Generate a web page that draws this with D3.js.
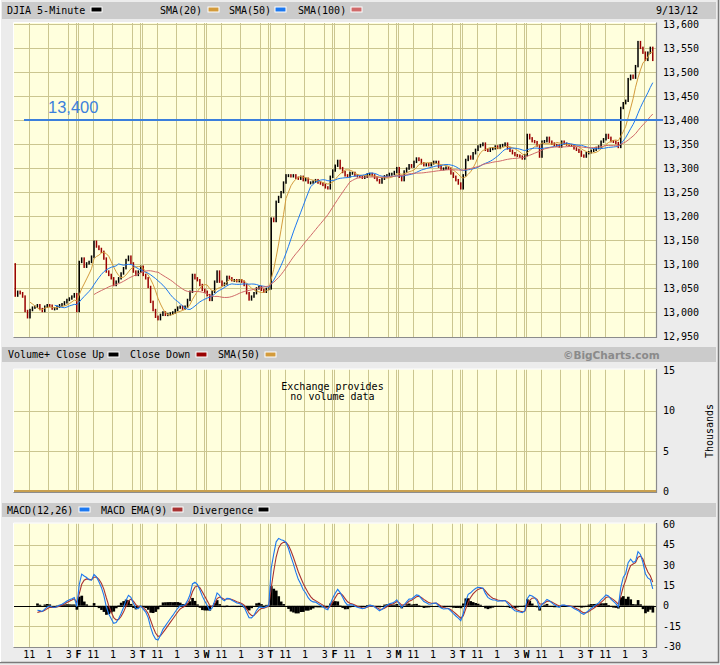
<!DOCTYPE html>
<html><head><meta charset="utf-8">
<script src="https://cdn.jsdelivr.net/npm/d3@7"></script>
<style>
html,body{margin:0;padding:0;background:#ececec;}
svg{display:block;}
text{font-family:"DejaVu Sans Mono",monospace;font-size:10px;fill:#000;}
</style></head><body>
<svg id="chart" width="720" height="665"></svg>
<script>
// ---------------- DATA (15-minute closes) ----------------
const dayLetters = ["T","F","T","W","T","F","M","T","W","T"];
const hourLabels = ["11","1","3"];
const firstOpen = 13100;
const closeAug30 = [13035,13043,13040,13033,13003,12990,13005,13010,13012,13015,13007,13003,13012,13015,13014,13008,13008,13012,13015,13017,13021,13026,13029,13033,13038,13003];
const closeAug31 = [13105,13112,13095,13102,13105,13116,13147,13137,13132,13126,13112,13085,13078,13071,13057,13064,13071,13081,13092,13109,13116,13102,13085,13078,13085,13095];
const closeSep04 = [13078,13071,13053,13022,13005,12991,12986,12995,13000,12995,12996,12998,13000,13005,13010,13012,13008,13012,13026,13043,13078,13071,13067,13057,13047,13043];
const closeSep05 = [13036,13026,13043,13064,13085,13064,13057,13060,13074,13071,13067,13067,13065,13067,13064,13057,13040,13027,13033,13040,13050,13053,13047,13043,13049,13050];
const closeSep06 = [13195,13190,13230,13240,13250,13270,13285,13285,13283,13285,13280,13278,13282,13275,13278,13270,13270,13272,13275,13270,13268,13265,13260,13258,13282,13295];
const closeSep07 = [13305,13315,13300,13292,13285,13283,13290,13290,13285,13283,13282,13280,13282,13287,13288,13285,13280,13275,13270,13278,13283,13285,13288,13288,13292,13300];
const closeSep10 = [13282,13275,13293,13299,13306,13303,13313,13320,13317,13310,13306,13308,13306,13310,13313,13313,13303,13299,13299,13301,13299,13289,13282,13275,13268,13258];
const closeSep11 = [13285,13317,13324,13320,13331,13338,13345,13348,13351,13338,13336,13340,13341,13345,13342,13347,13348,13351,13341,13336,13331,13327,13326,13324,13320,13327];
const closeSep12 = [13369,13362,13356,13354,13347,13324,13355,13356,13363,13355,13351,13348,13347,13345,13355,13351,13349,13348,13347,13341,13338,13334,13326,13324,13331,13333];
const closeSep13 = [13336,13338,13342,13345,13355,13360,13369,13363,13356,13355,13352,13344,13425,13435,13440,13485,13492,13488,13512,13562,13550,13540,13525,13540,13550,13525];
const priceTicks = d3.range(12950, 13601, 50);
const volumeTicks = [0,5,10,15];
const macdTicks = [-30,-15,0,15,30,45,60];
const refLevel = 13400;

const closes = [].concat(closeAug30,closeAug31,closeSep04,closeSep05,closeSep06,closeSep07,closeSep10,closeSep11,closeSep12,closeSep13);
const SLOTS_PER_DAY = 26, NDAYS = 10, N = closes.length;

// ---------------- helpers ----------------
const svg = d3.select("#chart");
const defs = svg.append("defs");

const X0 = 14, X1 = 656;
const xS = d3.scaleLinear().domain([0, N]).range([14, 654]);
const slotW = xS(1) - xS(0);
const GRID = "#cbc690";
const PLOT_BG = "#ffffdd";
const px = v => Math.round(v) + 0.5;

const panels = {
  main: {y0: 23, y1: 337},
  vol:  {y0: 369.5, y1: 492},
  macd: {y0: 523.5, y1: 647}
};
const yMain = d3.scaleLinear().domain([12950, 13600]).range([336.5, 23.8]);
const yVol = d3.scaleLinear().domain([0, 15]).range([491.5, 370.3]);
const yMacd = d3.scaleLinear().domain([-30, 60]).range([646.5, 524.3]);

// header bands
function band(y, h){ svg.append("rect").attr("x",2).attr("y",y).attr("width",714).attr("height",h).attr("fill","#cbcbcb"); }
band(2, 17); band(347, 15); band(503, 14);

function plotBg(p, id){
  svg.append("rect").attr("x",X0).attr("y",p.y0).attr("width",X1-X0).attr("height",p.y1-p.y0).attr("fill",PLOT_BG);
  defs.append("clipPath").attr("id",id).append("rect").attr("x",X0).attr("y",p.y0).attr("width",X1-X0).attr("height",p.y1-p.y0);
}
function vGrid(p){
  const g = svg.append("g").attr("stroke",GRID).attr("stroke-width",1);
  for (let d=0; d<NDAYS; d++){
    [6,14,22].forEach(s=>{
      const x = px(xS(d*SLOTS_PER_DAY+s));
      g.append("line").attr("x1",x).attr("x2",x).attr("y1",p.y0).attr("y2",p.y1);
    });
    if (d>0){
      const x = Math.round(xS(d*SLOTS_PER_DAY));
      [x-1.5, x+0.5].forEach(xx=> g.append("line").attr("x1",xx).attr("x2",xx).attr("y1",p.y0).attr("y2",p.y1));
    }
  }
}
function hGrid(p, scale, vals){
  const g = svg.append("g").attr("stroke",GRID).attr("stroke-width",1);
  vals.forEach(v=>{ const y=px(scale(v)); g.append("line").attr("x1",X0).attr("x2",X1).attr("y1",y).attr("y2",y); });
}
function border(p){
  svg.append("line").attr("x1",X0-0.5).attr("x2",X1).attr("y1",p.y1+0.5).attr("y2",p.y1+0.5).attr("stroke","#8c8c8c").attr("stroke-width",1.2);
  svg.append("line").attr("x1",X1+0.5).attr("x2",X1+0.5).attr("y1",p.y0-0.5).attr("y2",p.y1+1).attr("stroke","#8c8c8c").attr("stroke-width",1.2);
  svg.append("line").attr("x1",X0-0.5).attr("x2",X1).attr("y1",p.y0-0.5).attr("y2",p.y0-0.5).attr("stroke","#ffffff");
  svg.append("line").attr("x1",X0-0.5).attr("x2",X0-0.5).attr("y1",p.y0-0.5).attr("y2",p.y1).attr("stroke","#ffffff");
}

// ---------------- MAIN PANEL ----------------
plotBg(panels.main, "clipMain");
vGrid(panels.main);
hGrid(panels.main, yMain, priceTicks.filter(v=>v>12950));

const gMain = svg.append("g").attr("clip-path","url(#clipMain)");
const candles = closes.map((c,i)=>({i, o: i===0?firstOpen:closes[i-1], c}));
gMain.selectAll("rect.cd").data(candles).join("rect")
  .attr("x", d=>xS(d.i)+slotW/2-0.75).attr("width",1.5)
  .attr("y", d=>Math.min(yMain(d.o),yMain(d.c))-1.2)
  .attr("height", d=>Math.max(3, Math.abs(yMain(d.o)-yMain(d.c))+2.4))
  .attr("fill", d=> d.c>=d.o ? "#000000" : "#990000");

function sma(arr, w){ return arr.map((v,i)=> i<w-1?null: d3.mean(arr.slice(i-w+1,i+1))); }
const smaDefs = [{n:20,color:"#d39b3c"},{n:50,color:"#1c78f0"},{n:100,color:"#d06a6a"}];
smaDefs.forEach(s=>{
  const vals = sma(closes, Math.round(s.n/3));
  const line = d3.line().defined(d=>d!=null).x((d,i)=>xS(i)+slotW/2).y(d=>yMain(d));
  gMain.append("path").datum(vals).attr("d",line).attr("fill","none").attr("stroke",s.color).attr("stroke-width",1);
});
border(panels.main);

// reference level line
svg.append("line").attr("x1",24).attr("x2",663).attr("y1",yMain(refLevel)).attr("y2",yMain(refLevel))
  .attr("stroke","#3b7fdc").attr("stroke-width",2.2);
svg.append("text").attr("x",48).attr("y",yMain(refLevel)-7.5).text(d3.format(",")(refLevel))
  .style("font-family","'Liberation Sans',Arial,sans-serif").style("font-size","16.5px").style("fill","#3b7fdc");

svg.append("g").attr("transform","translate(661,0)")
  .call(d3.axisRight(yMain).tickValues(priceTicks).tickSize(0).tickPadding(2).tickFormat(d3.format(",")))
  .call(g=>g.select(".domain").remove())
  .selectAll("text").style("font-family","'DejaVu Sans Mono',monospace").style("font-size","10px").attr("fill","#000");

// ---------------- VOLUME PANEL ----------------
plotBg(panels.vol, "clipVol");
vGrid(panels.vol);
hGrid(panels.vol, yVol, [5,10]);
border(panels.vol);
svg.append("line").attr("x1",X0).attr("x2",X1).attr("y1",yVol(0)-0.5).attr("y2",yVol(0)-0.5).attr("stroke","#c8a050").attr("stroke-width",2);
svg.append("text").attr("x",332.5).attr("y",389.5).attr("text-anchor","middle").text("Exchange provides");
svg.append("text").attr("x",332.5).attr("y",399.8).attr("text-anchor","middle").text("no volume data");
svg.append("g").attr("transform","translate(661,0)")
  .call(d3.axisRight(yVol).tickValues(volumeTicks).tickSize(0).tickPadding(2).tickFormat(d=>String(d)))
  .call(g=>g.select(".domain").remove())
  .selectAll("text").style("font-family","'DejaVu Sans Mono',monospace").style("font-size","10px").attr("fill","#000");
svg.append("text").attr("transform","translate(713,431) rotate(-90)").attr("text-anchor","middle").text("Thousands");

// ---------------- MACD PANEL ----------------
plotBg(panels.macd, "clipMacd");
vGrid(panels.macd);
hGrid(panels.macd, yMacd, [-15,15,30,45]);

const a12 = 1-Math.pow(1-2/13,3), a26 = 1-Math.pow(1-2/27,3), a9 = 1-Math.pow(1-2/10,3);
let e12 = closes[0], e26 = closes[0];
const macd = closes.map(c=>{ e12 += a12*(c-e12); e26 += a26*(c-e26); return e12-e26; });
let sig = macd[0];
const signal = macd.map(m=>{ sig += a9*(m-sig); return sig; });
const START = 9;
const macdRows = macd.map((m,i)=>({i, m, s: signal[i], d: m-signal[i]})).filter(r=>r.i>=START);

const gM = svg.append("g").attr("clip-path","url(#clipMacd)");
gM.selectAll("rect.dv").data(macdRows).join("rect")
  .attr("x", r=>xS(r.i)).attr("width", slotW+0.2)
  .attr("y", r=>Math.min(yMacd(0), yMacd(r.d))).attr("height", r=>Math.abs(yMacd(r.d)-yMacd(0)))
  .attr("fill","#000");
gM.append("line").attr("x1",X0).attr("x2",X1).attr("y1",px(yMacd(0))).attr("y2",px(yMacd(0))).attr("stroke","#000").attr("stroke-width",1);
gM.append("path").datum(macdRows).attr("fill","none").attr("stroke","#a83232").attr("stroke-width",1.1)
  .attr("d", d3.line().x(r=>xS(r.i)+slotW/2).y(r=>yMacd(r.s)));
gM.append("path").datum(macdRows).attr("fill","none").attr("stroke","#1c78f0").attr("stroke-width",1.1)
  .attr("d", d3.line().x(r=>xS(r.i)+slotW/2).y(r=>yMacd(r.m)));
border(panels.macd);
svg.append("g").attr("transform","translate(661,0)")
  .call(d3.axisRight(yMacd).tickValues(macdTicks).tickSize(0).tickPadding(2).tickFormat(d=>String(d)))
  .call(g=>g.select(".domain").remove())
  .selectAll("text").style("font-family","'DejaVu Sans Mono',monospace").style("font-size","10px").attr("fill","#000");

// x-axis labels
const xTicks = [];
for (let d=0; d<NDAYS; d++){
  if (d>0) xTicks.push({s:d*SLOTS_PER_DAY, t:dayLetters[d], bold:true});
  [6,14,22].forEach((s,k)=> xTicks.push({s:d*SLOTS_PER_DAY+s, t:hourLabels[k], bold:false}));
}
const xAx = svg.append("g").attr("transform","translate(0,648)")
  .call(d3.axisBottom(xS).tickValues(xTicks.map(t=>t.s)).tickSize(0).tickPadding(3)
    .tickFormat((v,i)=>xTicks[i].t));
xAx.select(".domain").remove();
xAx.selectAll("text").style("font-family","'DejaVu Sans Mono',monospace").style("font-size","10px").attr("fill","#000")
  .style("font-weight",(v,i)=>xTicks[i].bold?"bold":"normal");

// ---------------- LEGENDS ----------------
function label(x,y,t){ svg.append("text").attr("x",x).attr("y",y).text(t); }
function swatch(x,y,c){ svg.append("rect").attr("x",x).attr("y",y).attr("width",11).attr("height",5).attr("fill",c).attr("stroke","#ffffff").attr("stroke-width",1); }
label(7,13.5,"DJIA 5-Minute"); swatch(91,7,"#000000");
label(160,13.5,"SMA(20)"); swatch(208,7,"#d39b3c");
label(229,13.5,"SMA(50)"); swatch(275,7,"#1c78f0");
label(298,13.5,"SMA(100)"); swatch(351,7,"#d06a6a");
label(656,13.5,"9/13/12");

label(8,358,"Volume+ Close Up"); swatch(108,352,"#000000");
label(130,358,"Close Down"); swatch(196,352,"#990000");
label(218,358,"SMA(50)"); swatch(265,352,"#d39b3c");
svg.append("text").attr("x",563).attr("y",358.5).text("©BigCharts.com")
  .style("font-family","'DejaVu Sans',sans-serif").style("font-weight","bold").style("font-size","10.5px").style("fill","#8a8a8a");

label(7,513.5,"MACD(12,26)"); swatch(79,507,"#1c78f0");
label(101,513.5,"MACD EMA(9)"); swatch(172,507,"#a83232");
label(193,513.5,"Divergence"); swatch(258,507,"#000000");

// frame
svg.append("line").attr("x1",718.5).attr("x2",718.5).attr("y1",0).attr("y2",663).attr("stroke","#7a7a7a").attr("stroke-width",1.5);
svg.append("line").attr("x1",0).attr("x2",719).attr("y1",662.5).attr("y2",662.5).attr("stroke","#7a7a7a").attr("stroke-width",1.5);
svg.append("line").attr("x1",0.5).attr("x2",0.5).attr("y1",0).attr("y2",662).attr("stroke","#ffffff");
</script>
</body></html>
